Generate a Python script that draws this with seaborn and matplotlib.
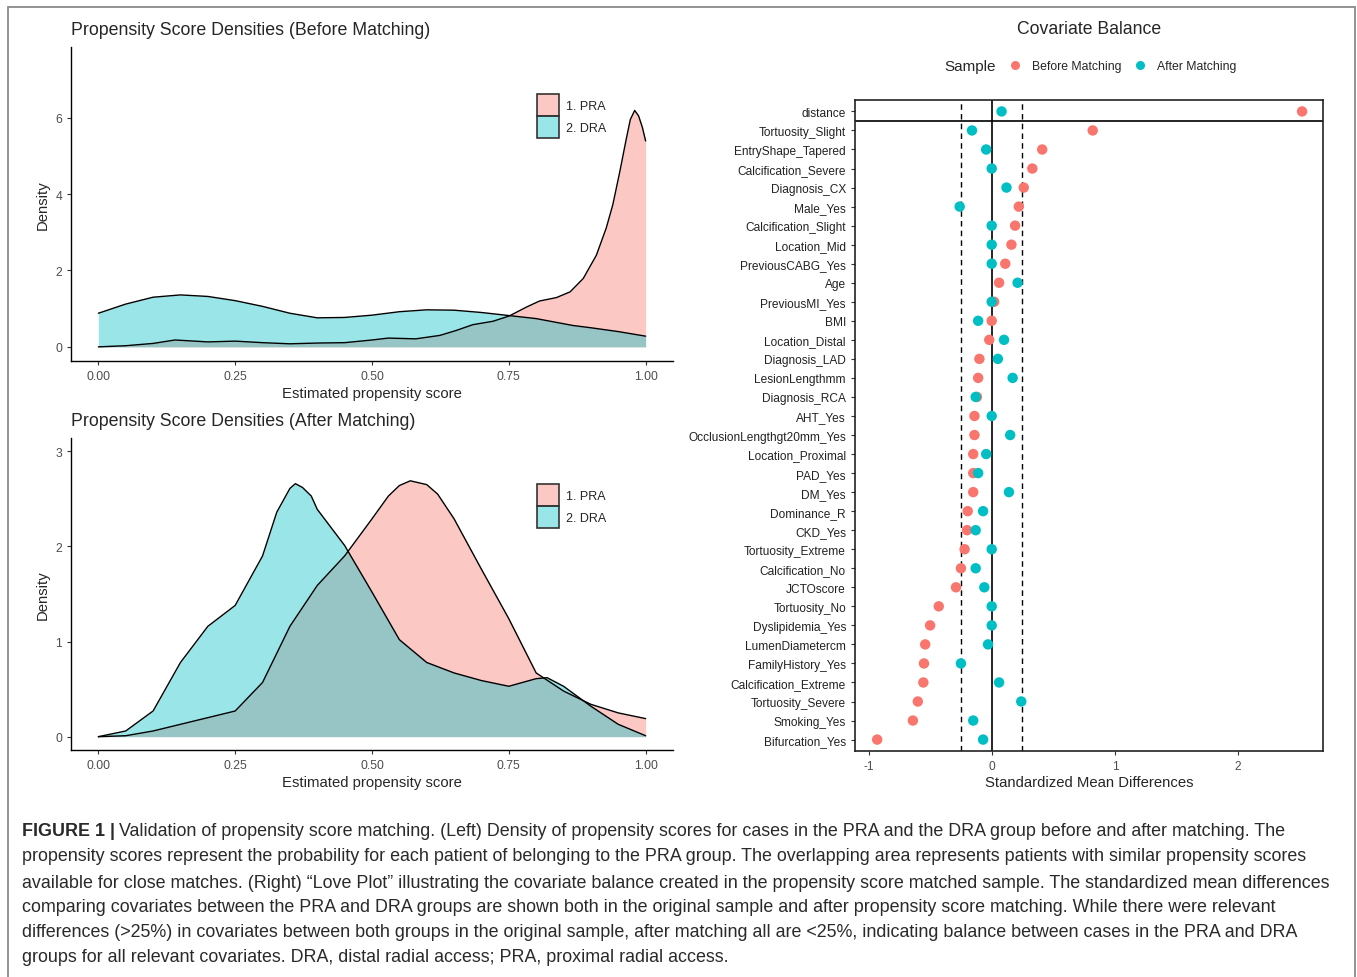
import numpy as np
import pandas as pd
import matplotlib
matplotlib.use('Agg')
import matplotlib.pyplot as plt
import seaborn as sns
from matplotlib.patches import Patch, Rectangle
from matplotlib.lines import Line2D

sns.set_style('white')
plt.rcParams['font.family'] = ['Liberation Sans', 'DejaVu Sans']

RED = '#F8766D'
CYAN = '#00BFC4'
GREY = '#4D4D4D'

# ---- density curves (x = propensity score, y = density) ----
pre_pra_x = [0.00, 0.05, 0.10, 0.14, 0.20, 0.25, 0.30, 0.35, 0.40, 0.45, 0.50, 0.53, 0.58,
             0.624, 0.654, 0.684, 0.721, 0.751, 0.782, 0.806, 0.837, 0.862, 0.886, 0.910,
             0.928, 0.940, 0.953, 0.965, 0.972, 0.980, 0.987, 0.994, 1.00]
pre_pra_y = [0.00, 0.03, 0.09, 0.18, 0.13, 0.15, 0.11, 0.08, 0.10, 0.11, 0.18, 0.23, 0.21,
             0.30, 0.43, 0.58, 0.67, 0.81, 1.04, 1.20, 1.29, 1.44, 1.79, 2.40,
             3.11, 3.72, 4.60, 5.47, 5.95, 6.19, 6.05, 5.75, 5.39]
pre_dra_x = [0.00, 0.05, 0.10, 0.15, 0.20, 0.25, 0.30, 0.35, 0.40, 0.45, 0.50, 0.55, 0.60,
             0.65, 0.70, 0.75, 0.80, 0.867, 0.90, 0.95, 1.00]
pre_dra_y = [0.88, 1.12, 1.30, 1.36, 1.32, 1.21, 1.06, 0.88, 0.76, 0.77, 0.83, 0.92, 0.97,
             0.96, 0.90, 0.82, 0.74, 0.56, 0.50, 0.40, 0.28]

post_pra_x = [0.00, 0.05, 0.10, 0.15, 0.20, 0.25, 0.30, 0.35, 0.40, 0.45, 0.50, 0.53, 0.55,
              0.57, 0.60, 0.62, 0.65, 0.70, 0.75, 0.80, 0.85, 0.90, 0.95, 1.00]
post_pra_y = [0.00, 0.01, 0.06, 0.13, 0.20, 0.27, 0.57, 1.16, 1.59, 1.90, 2.29, 2.53, 2.64,
              2.69, 2.65, 2.55, 2.29, 1.76, 1.24, 0.67, 0.48, 0.34, 0.25, 0.19]
post_dra_x = [0.00, 0.05, 0.10, 0.15, 0.20, 0.25, 0.30, 0.326, 0.35, 0.36, 0.373, 0.389,
              0.40, 0.45, 0.50, 0.55, 0.60, 0.65, 0.70, 0.75, 0.80, 0.82, 0.85, 0.90, 0.95, 1.00]
post_dra_y = [0.00, 0.06, 0.27, 0.78, 1.16, 1.38, 1.90, 2.36, 2.61, 2.66, 2.62, 2.53,
              2.39, 2.01, 1.52, 1.02, 0.78, 0.67, 0.59, 0.53, 0.61, 0.62, 0.53, 0.32, 0.13, 0.01]

# ---- love plot ----
covariates = ['distance', 'Tortuosity_Slight', 'EntryShape_Tapered', 'Calcification_Severe',
              'Diagnosis_CX', 'Male_Yes', 'Calcification_Slight', 'Location_Mid',
              'PreviousCABG_Yes', 'Age', 'PreviousMI_Yes', 'BMI', 'Location_Distal',
              'Diagnosis_LAD', 'LesionLengthmm', 'Diagnosis_RCA', 'AHT_Yes',
              'OcclusionLengthgt20mm_Yes', 'Location_Proximal', 'PAD_Yes', 'DM_Yes',
              'Dominance_R', 'CKD_Yes', 'Tortuosity_Extreme', 'Calcification_No', 'JCTOscore',
              'Tortuosity_No', 'Dyslipidemia_Yes', 'LumenDiametercm', 'FamilyHistory_Yes',
              'Calcification_Extreme', 'Tortuosity_Severe', 'Smoking_Yes', 'Bifurcation_Yes']
smd_before = [2.52, 0.82, 0.41, 0.33, 0.26, 0.22, 0.19, 0.16, 0.11, 0.06, 0.02, 0.00, -0.02,
              -0.10, -0.11, -0.12, -0.14, -0.14, -0.15, -0.15, -0.15, -0.195, -0.20, -0.22,
              -0.25, -0.29, -0.43, -0.50, -0.54, -0.55, -0.555, -0.60, -0.64, -0.93]
smd_after = [0.08, -0.16, -0.045, 0.00, 0.12, -0.26, 0.00, 0.00, 0.00, 0.21, 0.00, -0.11, 0.10,
             0.05, 0.17, -0.13, 0.00, 0.15, -0.045, -0.11, 0.14, -0.07, -0.13, 0.00, -0.13,
             -0.06, 0.00, 0.00, -0.03, -0.25, 0.06, 0.24, -0.15, -0.07]

W, H = 1357, 978
fig = plt.figure(figsize=(W / 100, H / 100), dpi=100)


def px_axes(left, top, right, bottom):
    return fig.add_axes([left / W, 1 - bottom / H, (right - left) / W, (bottom - top) / H])


def density_panel(ax, pra_x, pra_y, dra_x, dra_y, ylim, yticks, title):
    curves = pd.concat([
        pd.DataFrame({'score': pra_x, 'density': pra_y, 'group': '1. PRA'}),
        pd.DataFrame({'score': dra_x, 'density': dra_y, 'group': '2. DRA'}),
    ])
    for grp, col in [('1. PRA', RED), ('2. DRA', CYAN)]:
        d = curves[curves['group'] == grp]
        ax.fill_between(d['score'], 0, d['density'], color=col, alpha=0.4, linewidth=0)
    sns.lineplot(data=curves, x='score', y='density', units='group', estimator=None,
                 color='black', linewidth=1.0, ax=ax, legend=False, sort=False)
    ax.set_xlim(-0.05, 1.05)
    ax.set_ylim(*ylim)
    ax.set_xticks([0, 0.25, 0.5, 0.75, 1.0])
    ax.set_xticklabels(['0.00', '0.25', '0.50', '0.75', '1.00'])
    ax.set_yticks(yticks)
    ax.set_yticklabels([str(t) for t in yticks])
    ax.tick_params(axis='both', labelsize=8.7, labelcolor=GREY, color='#333333',
                   length=3, width=0.8, bottom=True, left=True)
    ax.set_xlabel('Estimated propensity score', fontsize=10.7, labelpad=3)
    ax.set_ylabel('Density', fontsize=10.7, labelpad=4)
    for s in ['top', 'right']:
        ax.spines[s].set_visible(False)
    for s in ['left', 'bottom']:
        ax.spines[s].set_color('black')
        ax.spines[s].set_linewidth(1.0)
    ax.set_title(title, loc='left', fontsize=12.8, pad=9)
    handles = [Patch(facecolor=(*matplotlib.colors.to_rgb(c), 0.4), edgecolor='#333333',
                     linewidth=1.2) for c in [RED, CYAN]]
    return handles


def density_legend(handles, top_px):
    fig.legend(handles, ['1. PRA', '2. DRA'], loc='upper left',
               bbox_to_anchor=(537 / W, 1 - top_px / H),
               frameon=False, fontsize=9, handlelength=1.75, handleheight=2.3,
               labelspacing=0.0, handletextpad=0.55, borderpad=0, borderaxespad=0)


ax1 = px_axes(71, 48, 673, 362)
h = density_panel(ax1, pre_pra_x, pre_pra_y, pre_dra_x, pre_dra_y, (-0.37, 7.85), [0, 2, 4, 6],
                  'Propensity Score Densities (Before Matching)')
density_legend(h, 95)

ax2 = px_axes(71, 439, 673, 751)
h = density_panel(ax2, post_pra_x, post_pra_y, post_dra_x, post_dra_y, (-0.14, 3.14), [0, 1, 2, 3],
                  'Propensity Score Densities (After Matching)')
density_legend(h, 485)

# ---- covariate balance ----
ax3 = px_axes(855, 101, 1323, 752)
love = pd.concat([
    pd.DataFrame({'covariate': covariates, 'smd': smd_before, 'Sample': 'Before Matching'}),
    pd.DataFrame({'covariate': covariates, 'smd': smd_after, 'Sample': 'After Matching'}),
])
ax3.axvline(0, color='black', linewidth=1.2, zorder=1)
ax3.axvline(-0.25, color='black', linewidth=1.0, linestyle=(0, (4, 3)), zorder=1)
ax3.axvline(0.25, color='black', linewidth=1.0, linestyle=(0, (4, 3)), zorder=1)
ax3.axhline(0.5, color='black', linewidth=1.2, zorder=1)
sns.stripplot(data=love, x='smd', y='covariate', hue='Sample', order=covariates,
              hue_order=['Before Matching', 'After Matching'], palette=[RED, CYAN],
              jitter=False, dodge=False, size=7.5, linewidth=0, ax=ax3, legend=False, zorder=3)
ax3.set_xlim(-1.11, 2.69)
ax3.set_ylim(len(covariates) - 0.4, -0.6)
ax3.set_xticks([-1, 0, 1, 2])
ax3.set_xticklabels(['-1', '0', '1', '2'])
ax3.tick_params(axis='both', labelsize=8.6, labelcolor='#222222', color='#333333',
                length=3, width=0.8, bottom=True, left=True)
ax3.tick_params(axis='x', labelcolor=GREY)
ax3.set_xlabel('Standardized Mean Differences', fontsize=10.7, labelpad=2)
ax3.set_ylabel('')
for s in ax3.spines.values():
    s.set_visible(True)
    s.set_color('#222222')
    s.set_linewidth(1.2)
fig.text(1089 / W, 1 - 30 / H, 'Covariate Balance', ha='center', va='center', fontsize=12.7)
fig.text(944 / W, 1 - 67 / H, 'Sample', ha='left', va='center', fontsize=11)
lh = [Line2D([], [], marker='o', linestyle='', markersize=6.5, markerfacecolor=c,
             markeredgewidth=0) for c in [RED, CYAN]]
fig.legend(lh, ['Before Matching', 'After Matching'], loc='center left',
           bbox_to_anchor=(1006 / W, 1 - 67 / H), ncol=2, frameon=False, fontsize=8.8,
           handlelength=1.4, handletextpad=0.7, columnspacing=0.8, borderpad=0, borderaxespad=0)

# ---- caption ----
caption_lines = [
    'Validation of propensity score matching. (Left) Density of propensity scores for cases in the PRA and the DRA group before and after matching. The',
    'propensity scores represent the probability for each patient of belonging to the PRA group. The overlapping area represents patients with similar propensity scores',
    'available for close matches. (Right) \u201cLove Plot\u201d illustrating the covariate balance created in the propensity score matched sample. The standardized mean differences',
    'comparing covariates between the PRA and DRA groups are shown both in the original sample and after propensity score matching. While there were relevant',
    'differences (>25%) in covariates between both groups in the original sample, after matching all are <25%, indicating balance between cases in the PRA and DRA',
    'groups for all relevant covariates. DRA, distal radial access; PRA, proximal radial access.',
]
cap_y = [832, 857, 883, 908, 933, 958]
cap_col = '#2a2a2a'
bold = fig.text(22 / W, 1 - cap_y[0] / H, 'FIGURE 1 |', fontsize=12.9, fontweight='bold',
                color=cap_col, va='center', ha='left')
fig.canvas.draw()
bb = bold.get_window_extent()
for i, (line, y) in enumerate(zip(caption_lines, cap_y)):
    x0 = (bb.x1 + 4) / W if i == 0 else 22 / W
    fig.text(x0, 1 - y / H, line, fontsize=12.9, color=cap_col, va='center', ha='left')

# outer frame
fig.patches.append(Rectangle((8 / W, -0.02), (1355 - 8) / W, 1.02 - 8 / H, transform=fig.transFigure,
                             fill=False, edgecolor='#8a8a8a', linewidth=1.3))

fig.savefig('out.png', dpi=100)
